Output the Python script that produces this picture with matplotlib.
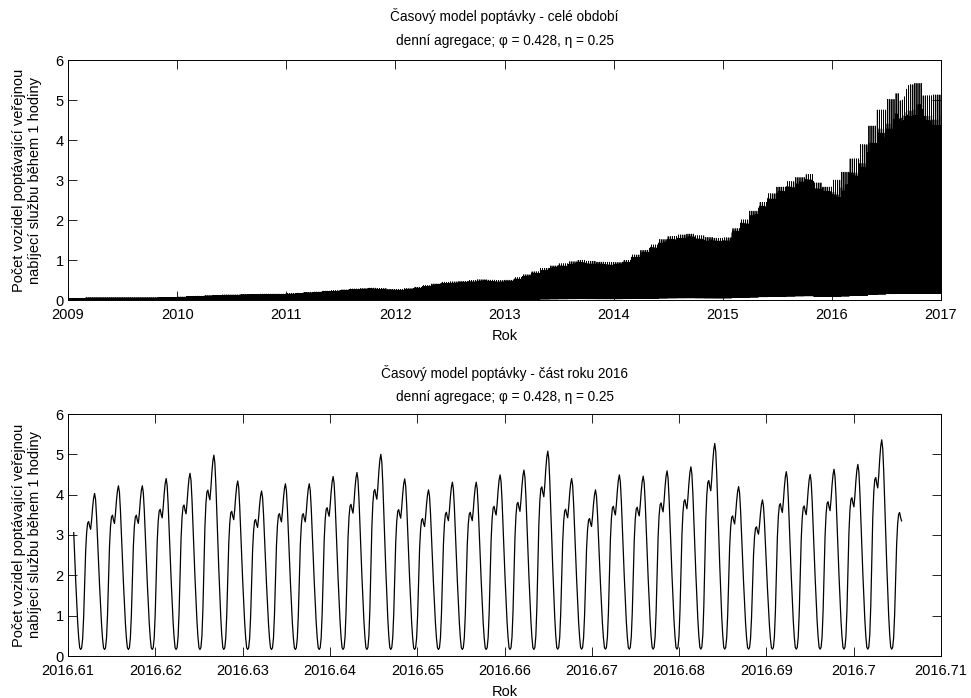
import numpy as np
import pandas as pd
import matplotlib
matplotlib.use("Agg")
import matplotlib.pyplot as plt

# ---------------- data ----------------
# typical (weekday) daily peak level per month, Jan 2009 .. Dec 2016
monthly_peak_level = [
    0.04, 0.04, 0.05, 0.05, 0.05, 0.05, 0.05, 0.05, 0.05, 0.05, 0.06, 0.06,   # 2009
    0.07, 0.08, 0.09, 0.10, 0.11, 0.12, 0.12, 0.13, 0.13, 0.14, 0.14, 0.14,   # 2010
    0.15, 0.16, 0.18, 0.19, 0.21, 0.22, 0.24, 0.26, 0.27, 0.28, 0.27, 0.25,   # 2011
    0.25, 0.27, 0.30, 0.34, 0.38, 0.42, 0.43, 0.44, 0.46, 0.48, 0.47, 0.46,   # 2012
    0.47, 0.53, 0.60, 0.67, 0.75, 0.81, 0.86, 0.91, 0.94, 0.92, 0.90, 0.89,   # 2013
    0.90, 0.95, 1.08, 1.19, 1.32, 1.45, 1.52, 1.56, 1.58, 1.54, 1.50, 1.48,   # 2014
    1.50, 1.72, 1.93, 2.14, 2.35, 2.56, 2.72, 2.85, 2.95, 3.02, 2.82, 2.72,   # 2015
    2.70, 2.88, 3.18, 3.50, 3.92, 4.28, 4.52, 4.65, 4.85, 4.88, 4.60, 4.62,   # 2016
]
# relative daily peak by weekday (Mon..Sun)
weekday_factor = [0.975, 1.0, 1.11, 0.935, 0.875, 0.945, 0.94]
# strength of the weekly pattern per year, 2009 .. 2016
weekly_strength = [0.6, 0.6, 0.6, 0.55, 0.5, 0.4, 0.35, 1.0]
# daily shape, hours counted from the night-time minimum (fraction of peak)
daily_profile = [0.00, 0.01, 0.07, 0.21, 0.41, 0.63, 0.75, 0.81, 0.82, 0.79,
                 0.77, 0.83, 0.91, 0.97, 1.00, 0.96, 0.85, 0.70, 0.55, 0.41,
                 0.28, 0.16, 0.07, 0.01]
trough_ratio = 0.035
# daily peaks in the detail window, 11 Aug 2016 .. 15 Sep 2016
bottom_daily_peaks = [4.30, 4.03, 4.22, 4.22, 4.40, 4.53, 4.98, 4.34, 4.09, 4.27,
                      4.27, 4.45, 4.55, 5.00, 4.39, 4.12, 4.31, 4.31, 4.49, 4.61,
                      5.08, 4.40, 4.12, 4.49, 4.46, 4.59, 4.69, 5.27, 4.20, 3.87,
                      4.57, 4.50, 4.63, 4.75, 5.36, 4.30]
bottom_first_day = "2016-08-11"
bottom_range = [2016.6106, 2016.7055]

top_xticks = [2009, 2010, 2011, 2012, 2013, 2014, 2015, 2016, 2017]
bottom_xticks = [2016.61, 2016.62, 2016.63, 2016.64, 2016.65, 2016.66,
                 2016.67, 2016.68, 2016.69, 2016.70, 2016.71]
bottom_xtick_labels = ["2016.61", "2016.62", "2016.63", "2016.64", "2016.65",
                       "2016.66", "2016.67", "2016.68", "2016.69", "2016.7", "2016.71"]
yticks = [0, 1, 2, 3, 4, 5, 6]

title_top = "Časový model poptávky - celé období\ndenní agregace; φ = 0.428, η = 0.25"
title_bottom = "Časový model poptávky - část roku 2016\ndenní agregace; φ = 0.428, η = 0.25"
ylabel = "Počet vozidel poptávající veřejnou\nnabíjecí službu během 1 hodiny"
xlabel = "Rok"

# ---------------- build hourly series ----------------
t = pd.date_range("2009-01-01", "2017-01-01", freq="h", inclusive="left")
diy = np.where(t.is_leap_year, 366, 365)
dec = t.year.values + (t.dayofyear.values - 1 + t.hour.values / 24.0) / diy

td = t + pd.Timedelta(hours=5)          # demand day starts at the evening minimum
phase = td.hour.values
yidx = np.clip(td.year.values - 2009, 0, len(weekly_strength) - 1)
midx = np.clip((td.year.values - 2009) * 12 + td.month.values - 1, 0, len(monthly_peak_level) - 1)
level = np.asarray(monthly_peak_level)[midx]
wf = 1 + (np.asarray(weekday_factor)[td.dayofweek.values] - 1) * np.asarray(weekly_strength)[yidx]
peak = level * wf
bp = pd.Series(bottom_daily_peaks,
               index=pd.date_range(bottom_first_day, periods=len(bottom_daily_peaks), freq="D"))
mapped = pd.Series(td.normalize()).map(bp).values
peak = np.where(np.isnan(mapped), peak, mapped)
trough = trough_ratio * level
values = trough + (peak - trough) * np.asarray(daily_profile)[phase]

sel = (dec >= bottom_range[0]) & (dec <= bottom_range[1])

# ---------------- plot ----------------
plt.rcParams["font.family"] = ["Liberation Sans", "DejaVu Sans"]
plt.rcParams["font.size"] = 10.5

fig = plt.figure(figsize=(9.71, 6.98), dpi=100)
ax1 = fig.add_axes([68 / 971, 1 - 300 / 698, 873 / 971, 240 / 698])
ax2 = fig.add_axes([68 / 971, 1 - 656 / 698, 873 / 971, 242 / 698])

ax1.plot(dec, values, color="black", lw=0.6)
ax2.plot(dec[sel], values[sel], color="black", lw=0.9)

ax1.set_xlim(top_xticks[0], top_xticks[-1])
ax1.set_xticks(top_xticks)
ax1.set_xticklabels([str(v) for v in top_xticks])
ax2.set_xlim(bottom_xticks[0], bottom_xticks[-1])
ax2.set_xticks(bottom_xticks)
ax2.set_xticklabels(bottom_xtick_labels)

for ax, ttl, tpad in ((ax1, title_top, 11), (ax2, title_bottom, 9)):
    ax.set_ylim(yticks[0], yticks[-1])
    ax.set_yticks(yticks)
    ax.set_yticklabels([str(v) for v in yticks])
    ax.set_title(ttl, fontsize=9.8, pad=tpad, linespacing=1.85)
    ax.set_xlabel(xlabel, fontsize=10.5, labelpad=5)
    ax.set_ylabel(ylabel, fontsize=10.5, labelpad=10, linespacing=1.15)
    ax.tick_params(direction="in", length=6.3, width=0.6, top=True, right=True,
                   labelsize=10.5, color="black")
    ax.tick_params(axis="x", pad=6)
    ax.tick_params(axis="y", pad=3)
    for s in ax.spines.values():
        s.set_linewidth(0.7)
        s.set_color("black")

fig.savefig("out.png", dpi=100)
